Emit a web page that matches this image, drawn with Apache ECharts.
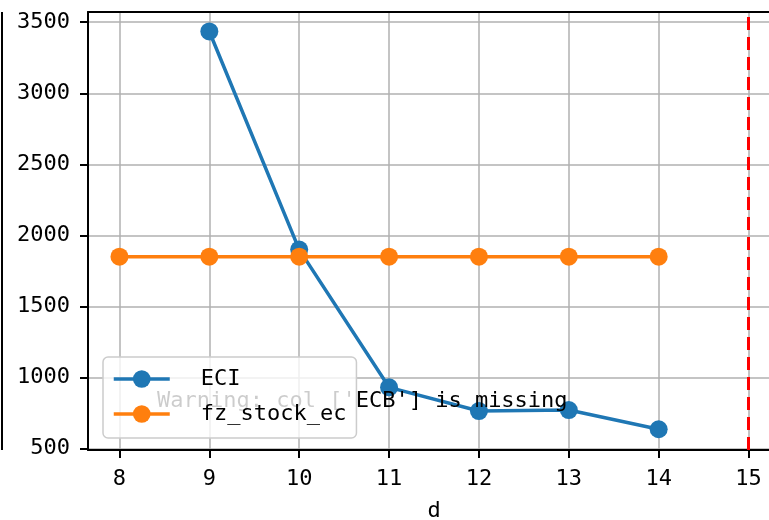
<!DOCTYPE html>
<html>
<head>
<meta charset="utf-8">
<script src="https://cdn.jsdelivr.net/npm/echarts@6/dist/echarts.min.js"></script>
<style>html,body{margin:0;padding:0;background:#fff}#c{width:769px;height:520px}</style>
</head>
<body>
<div id="c"></div>
<script>
const eciX = [9, 10, 11, 12, 13, 14];
const eciY = [3435, 1900, 931, 764, 771, 636];
const fzX = [8, 9, 10, 11, 12, 13, 14];
const fzY = [1850, 1850, 1850, 1850, 1850, 1850, 1850];
const xTicks = [8, 9, 10, 11, 12, 13, 14, 15];
const yTicks = [500, 1000, 1500, 2000, 2500, 3000, 3500];
const vLineX = 15;
const warningText = "Warning: col ['ECB'] is missing";

const FONT = 'DejaVu Sans Mono';
const chart = echarts.init(document.getElementById('c'), null, {renderer: 'canvas'});
const axisLineStyle = {show: true, onZero: false, lineStyle: {color: '#000', width: 2}};
const tickStyle = {show: true, length: 8, lineStyle: {color: '#000', width: 2}};
const splitStyle = {show: true, lineStyle: {color: '#b0b0b0', width: 1.5}};
chart.setOption({
  animation: false,
  grid: {left: 88, top: 12, right: -11, bottom: 70, containLabel: false, outerBoundsMode: 'none'},
  xAxis: [{
    type: 'value', min: 7.65, max: 15.35,
    name: 'd', nameLocation: 'middle', nameGap: 50,
    nameTextStyle: {fontFamily: FONT, fontSize: 22, color: '#000'},
    axisLine: axisLineStyle,
    axisTick: Object.assign({customValues: xTicks}, tickStyle),
    splitLine: splitStyle,
    axisLabel: {customValues: xTicks, margin: 18, fontFamily: FONT, fontSize: 22, color: '#000',
                formatter: v => String(v)}
  }, {
    type: 'value', min: 7.65, max: 15.35, position: 'top',
    axisLine: {show: true, onZero: false, lineStyle: {color: '#000', width: 2}},
    axisTick: {show: false}, axisLabel: {show: false}, splitLine: {show: false}
  }],
  yAxis: {
    type: 'value', min: 490, max: 3572,
    axisLine: axisLineStyle,
    axisTick: Object.assign({customValues: yTicks}, tickStyle),
    splitLine: splitStyle,
    axisLabel: {customValues: yTicks, margin: 18, fontFamily: FONT, fontSize: 22, color: '#000',
                formatter: v => String(v)}
  },
  legend: {
    orient: 'vertical', left: 103, top: 357,
    padding: [11, 10, 13, 9],
    itemWidth: 56, itemHeight: 22, itemGap: 13,
    backgroundColor: 'rgba(255,255,255,0.8)',
    borderColor: '#cccccc', borderWidth: 1.5, borderRadius: 5,
    lineStyle: {width: 3.5},
    textStyle: {fontFamily: FONT, fontSize: 22, color: '#000', padding: [0, 0, 0, 26]},
    z: 10,
    data: ['ECI', 'fz_stock_ec']
  },
  graphic: [
    {type: 'text', x: 157, y: 401, z: 5,
     style: {text: warningText, fontFamily: FONT, fontSize: 22, fill: '#000', verticalAlign: 'middle'}},
    {type: 'line', shape: {x1: 2, y1: 12, x2: 2, y2: 450}, style: {stroke: '#000', lineWidth: 2}}
  ],
  series: [
    {
      name: 'ECI', type: 'line', z: 3,
      data: eciX.map((x, i) => [x, eciY[i]]),
      symbol: 'circle', symbolSize: 18,
      lineStyle: {color: '#1f77b4', width: 3.5}, itemStyle: {color: '#1f77b4'},
      markLine: {
        silent: true, symbol: 'none', label: {show: false},
        lineStyle: {color: '#ff0000', width: 3, type: [13, 7]},
        data: [{xAxis: vLineX}]
      }
    },
    {
      name: 'fz_stock_ec', type: 'line', z: 3,
      data: fzX.map((x, i) => [x, fzY[i]]),
      symbol: 'circle', symbolSize: 18,
      lineStyle: {color: '#ff7f0e', width: 3.5}, itemStyle: {color: '#ff7f0e'}
    }
  ]
});
</script>
</body>
</html>
